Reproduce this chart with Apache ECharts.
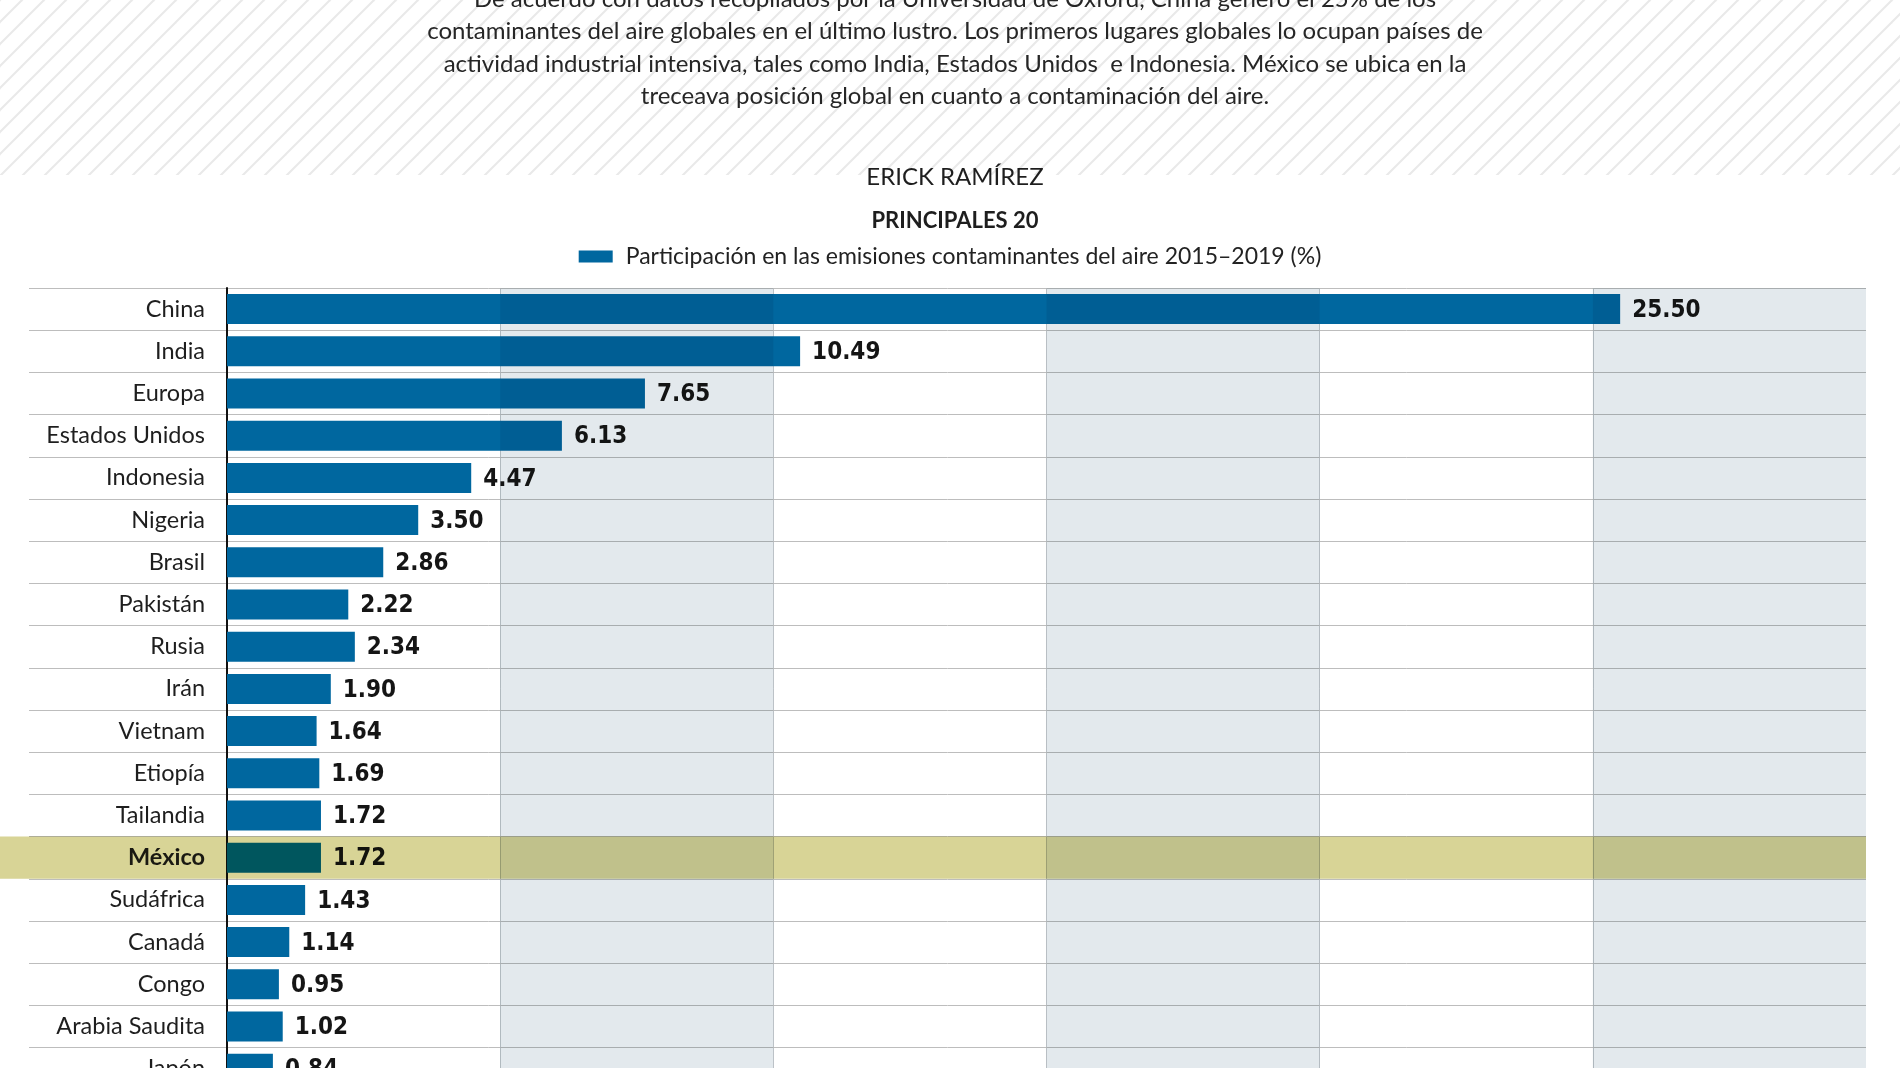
<!DOCTYPE html>
<html>
<head>
<meta charset="utf-8">
<script src="https://cdn.jsdelivr.net/npm/echarts/dist/echarts.min.js"></script>
<style>
html,body{margin:0;padding:0;overflow:hidden;background:#fff;width:1900px;height:1068px}
#c{width:1900px;height:1100px}
</style>
</head>
<body>
<div id="c"></div>
<script>
// ---- data ----
const categories = ['China','India','Europa','Estados Unidos','Indonesia','Nigeria','Brasil','Pakistán','Rusia','Irán','Vietnam','Etiopía','Tailandia','México','Sudáfrica','Canadá','Congo','Arabia Saudita','Japón'];
const values = [25.50,10.49,7.65,6.13,4.47,3.50,2.86,2.22,2.34,1.90,1.64,1.69,1.72,1.72,1.43,1.14,0.95,1.02,0.84];
const highlighted = 'México';
const xMin = 0, xMax = 30, xInterval = 5;
const introLines = [
  'De acuerdo con datos recopilados por la Universidad de Oxford, China generó el 25% de los',
  'contaminantes del aire globales en el último lustro. Los primeros lugares globales lo ocupan países de',
  'actividad industrial intensiva, tales como India, Estados Unidos  e Indonesia. México se ubica en la',
  'treceava posición global en cuanto a contaminación del aire.'
];
const author = 'ERICK RAMÍREZ';
const subtitle = 'PRINCIPALES 20';
const seriesName = 'Participación en las emisiones contaminantes del aire 2015–2019 (%)';

// ---- layout / style ----
const TEXT_FONT = 'Lato, "Noto Sans", sans-serif';
const NUM_FONT = '"DejaVu Sans Condensed", "Liberation Sans Narrow", Roboto, sans-serif';
const ROW_H = 42.2;
const GRID_TOP = 288;
const GRID_H = ROW_H * categories.length;
const RIGHT = 34;
const CX = 955;

// alternating band ranges taken from the axis ticks
const bandRanges = [];
for (let v = xMin + xInterval; v < xMax; v += 2 * xInterval) bandRanges.push([v, v + xInterval]);

// hatch pattern
const pat = document.createElement('canvas');
pat.width = 22; pat.height = 22;
const pc = pat.getContext('2d');
pc.strokeStyle = '#e9e9e9'; pc.lineWidth = 2;
[[0,22,22,0],[-11,11,11,-11],[11,33,33,11]].forEach(l => { pc.beginPath(); pc.moveTo(l[0],l[1]); pc.lineTo(l[2],l[3]); pc.stroke(); });

const introY = [-1, 31.5, 64, 96.5];
const graphics = [
  {type:'rect', z:-10, silent:true, shape:{x:0,y:0,width:1900,height:175}, style:{fill:{image:pat, repeat:'repeat'}}}
];
introLines.forEach((t,i) => graphics.push({type:'text', x:CX, y:introY[i], silent:true,
  style:{text:t, align:'center', verticalAlign:'middle', font:'24px ' + TEXT_FONT, fill:'#262626'}}));
graphics.push({type:'text', x:CX, y:177, silent:true, style:{text:author, align:'center', verticalAlign:'middle', font:'24px ' + TEXT_FONT, fill:'#1e1e1e'}});
graphics.push({type:'text', x:CX, y:221, silent:true, style:{text:subtitle, align:'center', verticalAlign:'middle', font:'bold 22px ' + TEXT_FONT, fill:'#1e1e1e'}});

const chart = echarts.init(document.getElementById('c'), null, {renderer:'canvas'});
const gridBase = {top:GRID_TOP, height:GRID_H, right:RIGHT, containLabel:false, outerBoundsMode:'none'};
chart.setOption({
  backgroundColor:'#ffffff',
  animation:false,
  graphic: graphics,
  legend: {
    data:[seriesName], left:'center', top:245, padding:0, itemGap:0,
    icon:'rect', itemWidth:34, itemHeight:12, selectedMode:false,
    itemStyle:{borderWidth:0},
    textStyle:{fontFamily:TEXT_FONT, fontSize:23, color:'#222', padding:[0,0,0,8]}
  },
  grid: [
    Object.assign({left:29}, gridBase),
    Object.assign({left:227}, gridBase),
    Object.assign({left:0}, gridBase)
  ],
  xAxis: [
    {gridIndex:0, type:'value', min:0, max:1, show:false},
    {gridIndex:1, type:'value', min:xMin, max:xMax, interval:xInterval, z:0,
     axisLabel:{show:false}, axisLine:{show:false}, axisTick:{show:false},
     splitLine:{show:true, showMaxLine:false, lineStyle:{color:'#c4c8cc', width:1}}, splitArea:{show:false}},
    {gridIndex:2, type:'value', min:0, max:1, show:false}
  ],
  yAxis: [
    {gridIndex:0, type:'category', data:categories, inverse:true, z:1,
     axisLine:{show:false}, axisTick:{show:false}, axisLabel:{show:false},
     splitLine:{show:true, lineStyle:{color:'#bdbdbd', width:1}}},
    {gridIndex:1, type:'category', inverse:true, z:2,
     data: categories.map(c => c === highlighted ? {value:c, textStyle:{fontWeight:'bold'}} : c),
     axisLine:{show:true, lineStyle:{color:'#111', width:2}}, axisTick:{show:false},
     splitLine:{show:false},
     axisLabel:{margin:22, fontFamily:TEXT_FONT, fontSize:23.5, color:'#1e1e1e'}},
    {gridIndex:2, type:'category', data:categories, inverse:true, show:false}
  ],
  series: [
    {type:'bar', name:seriesName, xAxisIndex:1, yAxisIndex:1, data:values, barWidth:30, barCategoryGap:0, z:2, silent:true,
     itemStyle:{color:'#00679f'},
     label:{show:true, position:'right', distance:12, offset:[0,1.5], formatter:p => p.value.toFixed(2),
            fontFamily:NUM_FONT, fontSize:24, fontWeight:'bold', color:'#151515'}},
    {type:'custom', xAxisIndex:1, yAxisIndex:1, data:bandRanges, encode:{x:[0,1]}, z:3, silent:true,
     blendMode:'multiply',
     renderItem:(params, api) => {
       const cs = params.coordSys;
       const a = api.coord([api.value(0), 0])[0];
       const b = api.coord([api.value(1), 0])[0];
       return {type:'rect', shape:{x:a, y:cs.y, width:b-a, height:cs.height}, style:{fill:'#e3e9ed'}};
     }},
    {type:'bar', xAxisIndex:2, yAxisIndex:2, barWidth:'100%', z:4, silent:true, blendMode:'multiply',
     data: categories.map(c => c === highlighted ? 1 : null),
     itemStyle:{color:'#d8d496'}}
  ]
});
</script>
</body>
</html>
